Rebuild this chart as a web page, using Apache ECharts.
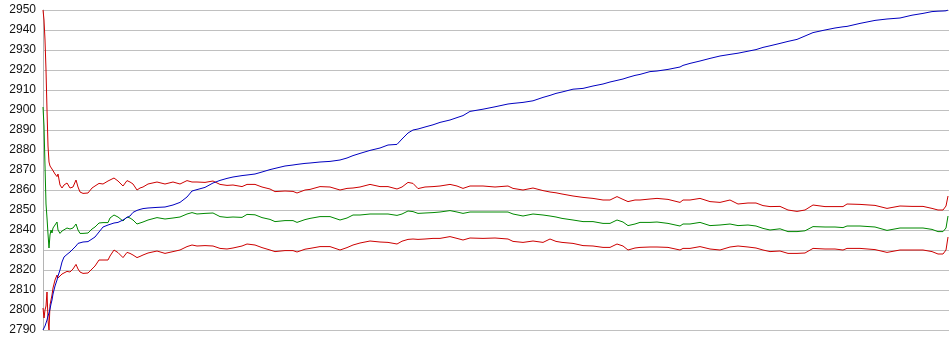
<!DOCTYPE html>
<html>
<head>
<meta charset="utf-8">
<script src="https://cdn.jsdelivr.net/npm/echarts@6/dist/echarts.min.js"></script>
<style>
html,body{margin:0;padding:0;background:#fff;}
#c{width:950px;height:355px;}
</style>
</head>
<body>
<div id="c"></div>
<script>
// sample positions (step index)
const steps = [0,1,2,3,4,5,6,7,8,9,
10,12,14,15,17,19,21,24,27,30,
33,35,37,40,45,49,52,56,60,65,
67,71,75,80,84,87,90,94,97,100,
105,114,122,130,137,144,149,154,162,170,
177,184,190,199,204,212,219,227,232,242,
250,254,262,267,277,287,297,304,310,317,
327,337,345,354,359,365,370,375,382,390,
397,407,414,420,427,440,452,465,470,480,
490,500,507,513,519,530,540,550,560,567,
574,580,585,592,597,607,614,625,637,640,
647,657,667,677,687,695,705,713,720,727,
737,745,754,762,770,782,792,800,804,817,
832,844,857,869,880,889,895,900,903,905];

const blueValues = [2790,2790.7,2792,2793.5,2795,2797,2798.5,2800.5,2803,2805,
2808,2812,2815,2817,2820,2824,2826.5,2827.8,2829,2830.5,
2832,2833.3,2833.8,2834,2834.2,2835.5,2836.5,2839,2841.5,2842.5,
2843,2843.5,2843.8,2845,2846.3,2847,2848.8,2849.8,2850.3,2850.7,
2851,2851.3,2851.5,2852.5,2853.8,2856.5,2859.5,2860.2,2861.3,2863.5,
2864.8,2865.8,2866.5,2867.2,2867.5,2868,2869,2870.2,2870.8,2872,
2872.5,2872.8,2873.3,2873.5,2874,2874.3,2875,2876,2877.2,2878.3,
2879.8,2881,2882.5,2882.8,2885.5,2888.5,2890,2890.5,2891.5,2892.6,
2893.8,2895,2896.2,2897.2,2899.3,2900.4,2901.6,2903,2903.3,2903.8,
2904.6,2906.3,2907.3,2908.3,2909,2910.4,2910.8,2912,2913,2914,
2914.8,2915.5,2916.3,2917.3,2917.8,2919.2,2919.5,2920.3,2921.5,2922.3,
2923.3,2924.5,2925.8,2927,2927.8,2928.4,2929.4,2930.2,2931.3,2932.1,
2933.3,2934.3,2935.3,2937,2938.7,2940,2941,2941.6,2941.8,2943.3,
2944.8,2945.5,2946,2947.4,2948.3,2949.2,2949.4,2949.5,2949.6,2950];

const greenValues = [2901.5,2892,2872,2853,2846,2838,2831,2837.5,2840,2838.5,
2841,2842,2844,2840,2838.3,2839.5,2840.5,2841,2840.5,2841,
2843,2840,2838.3,2838.3,2838.5,2840.5,2841.5,2843.5,2843.7,2843.7,
2846,2847.5,2846.5,2844.5,2846.5,2846,2845,2843,2843.5,2844,
2845,2846.2,2845.5,2846,2846.5,2848,2848.7,2848,2848.3,2848.5,
2846.7,2846.3,2846.5,2846.3,2847.8,2847.6,2846.2,2845.3,2844.2,2844.7,
2844.7,2843.8,2845.2,2845.8,2846.7,2846.7,2845,2846,2847.5,2847.5,
2848,2848,2848,2847.3,2848,2849.5,2849.2,2848.3,2848.5,2848.7,
2849,2849.7,2849,2848.3,2849,2849,2849,2849,2848,2847,
2848,2847.5,2847,2846.5,2845.8,2845,2844.2,2844.2,2843.3,2843.3,
2845,2844,2842.2,2843,2843.8,2843.8,2844,2843.3,2842,2843,
2843,2843.8,2842.2,2842.5,2843,2842.2,2842.5,2842,2840.8,2840,
2840.6,2839.2,2839.2,2839.6,2841.7,2841.5,2841.5,2841.2,2842,2842,
2841.5,2839.8,2841,2841,2841,2840.3,2839.2,2839.2,2841,2847];

const upperValues = [2950,2945,2935,2920,2900,2882,2874,2872,2871.5,2870.5,
2869.5,2868,2866.7,2868,2862.5,2861,2862.5,2863.5,2861,2861.5,
2865,2861.5,2859,2858.3,2858.5,2861,2862,2863.3,2863,2864.5,
2865,2866,2864.5,2862,2864.7,2864,2863,2860,2861,2861.5,
2863,2864,2863,2864,2863,2864.7,2864,2864,2863.8,2864.5,
2862.8,2862.3,2862.5,2861.7,2862.8,2862.8,2861.5,2860.5,2859.2,2859.5,
2859.3,2858.5,2860,2860.3,2861.7,2861.5,2860,2860.8,2861,2861.5,
2862.8,2861.7,2861.7,2860.5,2861.5,2863.8,2863.3,2860.7,2861.5,2861.7,
2862,2862.8,2862,2860.8,2862,2862,2861.5,2862,2860.8,2860,
2861,2859.7,2859,2858.6,2858,2857,2856.3,2855.8,2855,2855,
2856.7,2855.3,2854.2,2855,2855,2855.5,2855.8,2855.3,2853.8,2855,
2855,2855.8,2854.2,2853.8,2855,2853,2853.5,2853.5,2852.2,2851.7,
2851.8,2850,2849.3,2850,2852.5,2851.7,2851.7,2851.7,2853,2852.8,
2852.3,2850.8,2852,2851.8,2851.8,2850.8,2850,2850,2852,2857];

const lowerValues = [2801,2796,2800,2802,2809,2795,2790,2802.5,2805,2807.5,
2811,2815,2817.5,2816,2815,2818,2819,2819.3,2819,2820.5,
2822.8,2820.5,2819,2818.3,2818.5,2820.5,2822,2825,2825,2825,
2827,2830,2828.7,2826.2,2828.8,2828.3,2827.5,2826.2,2826.8,2827.5,
2828.5,2829.5,2828.3,2829.2,2830,2831.7,2832.5,2832,2832.2,2832,
2830.8,2830.5,2831,2832,2833,2832.5,2831.2,2830,2829.2,2829.7,
2829.7,2829,2830.4,2830.8,2831.7,2831.7,2830,2831.2,2832.5,2833.5,
2834.5,2834,2833.8,2833,2834.4,2835.3,2835.5,2835.3,2835.5,2835.8,
2835.8,2836.7,2835.8,2835,2836,2835.8,2836,2835.5,2834.3,2833.8,
2834.5,2833.8,2835.5,2834.3,2833.8,2833.3,2832.2,2832,2831.3,2831.3,
2833,2832,2830,2831,2831.3,2831.5,2831.5,2831.3,2830,2830.8,
2830.8,2831.7,2830.5,2830,2831.5,2832,2831.5,2831,2830,2829.2,
2829.5,2828.3,2828.3,2828.5,2830.8,2830.5,2830.5,2830,2830.8,2830.8,
2830.2,2828.8,2830,2830,2830,2829.2,2828,2828,2830,2836.5];

const yMin = 2790, yMax = 2950, yStep = 10;

function pairs(vals){ return steps.map((s,i)=>[s, vals[i]]); }

const chart = echarts.init(document.getElementById('c'), null, {renderer:'canvas'});
const lineSeries = (name, vals, color) => ({
  name, type:'line', data: pairs(vals), showSymbol:false, symbol:'none',
  lineStyle:{color, width:1}, itemStyle:{color}, animation:false, z: 2
});
chart.setOption({
  animation:false,
  backgroundColor:'#ffffff',
  grid:{left:43, right:1, top:10, bottom:25, containLabel:false},
  xAxis:{type:'value', min:0, max:906, show:false},
  yAxis:{
    type:'value', min:yMin, max:yMax, interval:yStep,
    axisLine:{show:true, lineStyle:{color:'#b4b4b4', width:1}},
    axisTick:{show:false},
    axisLabel:{color:'#111', fontFamily:'Liberation Sans, Arial, sans-serif', fontSize:12, margin:7,
      formatter: v => String(v)},
    splitLine:{show:true, lineStyle:{color:'#c0c0c0', width:1}}
  },
  series:[
    lineSeries('upper', upperValues, '#cc0000'),
    lineSeries('middle', greenValues, '#008800'),
    lineSeries('lower', lowerValues, '#cc0000'),
    lineSeries('value', blueValues, '#0000c0')
  ]
});
</script>
</body>
</html>
